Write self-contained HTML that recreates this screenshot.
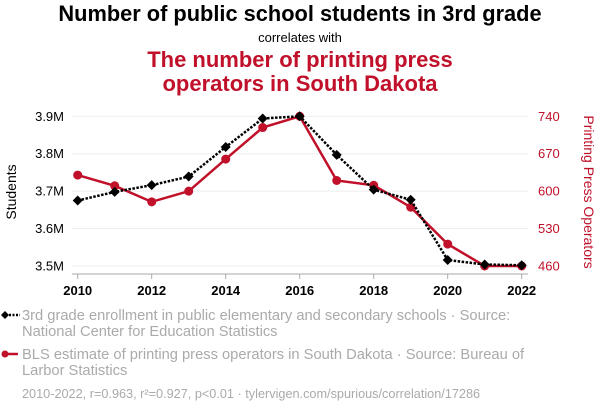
<!DOCTYPE html>
<html><head><meta charset="utf-8"><style>
body{margin:0;width:600px;height:414px;background:#fff;font-family:"Liberation Sans",Arial,sans-serif;overflow:hidden}
svg text{font-family:"Liberation Sans",Arial,sans-serif}
</style></head><body>
<svg id="c" width="600" height="414">
<text x="300" y="21" text-anchor="middle" font-size="21.8" font-weight="bold" fill="#000">Number of public school students in 3rd grade</text>
<text x="300" y="42" text-anchor="middle" font-size="13" fill="#000">correlates with</text>
<text x="300" y="67" text-anchor="middle" font-size="22" font-weight="bold" fill="#c0102a">The number of printing press</text>
<text x="300" y="91" text-anchor="middle" font-size="22" font-weight="bold" fill="#c0102a">operators in South Dakota</text>
<text transform="translate(16,192) rotate(-90)" text-anchor="middle" font-size="14" fill="#000">Students</text>
<text transform="translate(584,192) rotate(90)" text-anchor="middle" font-size="14" fill="#c0102a">Printing Press Operators</text>
<g id="grid"></g><g id="axes"></g><g id="series"></g>
<g font-size="14.7" fill="#aaa">
<g>
<line x1="2" y1="315" x2="20" y2="315" stroke="#000" stroke-width="2.5" stroke-dasharray="2,1.5"/>
<path d="M1,315 L5,311 L9,315 L5,319Z" fill="#000"/>
<text x="22" y="320">3rd grade enrollment in public elementary and secondary schools · Source:</text>
<text x="22" y="336">National Center for Education Statistics</text></g>
<g>
<line x1="2" y1="354" x2="18" y2="354" stroke="#c0102a" stroke-width="2.5"/>
<circle cx="5" cy="354" r="3.5" fill="#c0102a"/>
<text x="22" y="359">BLS estimate of printing press operators in South Dakota · Source: Bureau of</text>
<text x="22" y="375">Larbor Statistics</text></g>
<text x="22" y="398" font-size="12.7">2010-2022, r=0.963, r²=0.927, p&lt;0.01 · tylervigen.com/spurious/correlation/17286</text>
</g>
</svg>
<script>
const years=[2010,2011,2012,2013,2014,2015,2016,2017,2018,2019,2020,2021,2022];
const students=[3.675,3.698,3.716,3.739,3.818,3.894,3.900,3.797,3.704,3.677,3.516,3.504,3.502];
const operators=[630,610,580,600,660,719,740,620,611,570,501,460,460];
const leftTicks=[3.5,3.6,3.7,3.8,3.9];
const leftLabels=["3.5M","3.6M","3.7M","3.8M","3.9M"];
const rightTicks=[460,530,600,670,740];
const xTicks=[2010,2012,2014,2016,2018,2020,2022];
const NS="http://www.w3.org/2000/svg";
const x=v=>77.7+(v-2010)*(521.7-77.7)/12;
const yl=v=>266-(v-3.5)*(266-116.3)/0.4;
const yr=v=>266-(v-460)*(266-116.3)/280;
function mk(t,a,p){const e=document.createElementNS(NS,t);for(const k in a)e.setAttribute(k,a[k]);p.appendChild(e);return e;}
const grid=document.getElementById('grid'),axes=document.getElementById('axes'),ser=document.getElementById('series');
leftTicks.forEach((t,i)=>{
 const g=mk('line',{x1:72,x2:528,y1:yl(t),y2:yl(t),stroke:'#eee','stroke-width':1},grid);
 
 
 const l=mk('text',{x:64,y:yl(t)+4.5,'text-anchor':'end','font-size':13,fill:'#000'},axes);l.textContent=leftLabels[i];
 
 
});
rightTicks.forEach(t=>{
 const l=mk('text',{x:538,y:yr(t)+4.5,'font-size':13,fill:'#c0102a'},axes);l.textContent=t;
 
 
});
const ax=mk('line',{x1:72,x2:528,y1:274,y2:274,stroke:'#aaa','stroke-width':1},axes);


xTicks.forEach(t=>{
 mk('line',{x1:x(t),x2:x(t),y1:274,y2:279,stroke:'#aaa'},axes);
 const l=mk('text',{x:x(t),y:295,'text-anchor':'middle','font-size':13,'font-weight':'bold',fill:'#000'},axes);l.textContent=t;
 
 
});
const rp=mk('polyline',{points:years.map((y,i)=>x(y)+','+yr(operators[i])).join(' '),fill:'none',stroke:'#c0102a','stroke-width':2.5},ser);


years.forEach((y,i)=>{const c=mk('circle',{cx:x(y),cy:yr(operators[i]),r:4.5,fill:'#c0102a'},ser);
 
 });
const bp=mk('polyline',{points:years.map((y,i)=>x(y)+','+yl(students[i])).join(' '),fill:'none',stroke:'#000','stroke-width':2.5,'stroke-dasharray':'2.5,1.5'},ser);


years.forEach((y,i)=>{const cx=x(y),cy=yl(students[i]);
 const d=mk('path',{d:`M${cx-5},${cy} L${cx},${cy-5} L${cx+5},${cy} L${cx},${cy+5}Z`,fill:'#000'},ser);
 
 });
</script>
</body></html>
